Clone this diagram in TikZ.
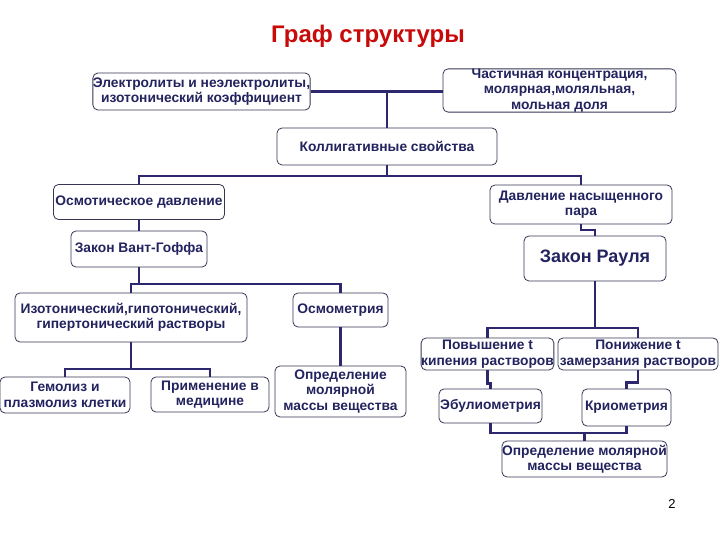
\documentclass[tikz,border=0pt]{standalone}
\usepackage{fontspec}
\setmainfont{Liberation Sans}
\usepackage{tikz}
\usetikzlibrary{calc,positioning}
\definecolor{navytext}{RGB}{35,35,95}
\definecolor{navyline}{RGB}{45,40,110}
\definecolor{boxedge}{RGB}{55,55,85}
\definecolor{titlered}{RGB}{200,10,10}

\begin{document}
\begin{tikzpicture}[x=1pt, y=-1pt,
    box/.style={draw=boxedge, line width=0.8pt, rounded corners=5pt, fill=white,
      inner sep=0pt, align=center, text=navytext,
      font=\fontsize{13.8}{15.5}\selectfont\bfseries},
    link/.style={draw=navyline, line width=2.2pt}]
  \useasboundingbox[fill=white] (0,0) rectangle (720,540);
  \node[text=titlered, font=\fontsize{24}{28}\selectfont\bfseries] (title) at (368,36) {Граф структуры};
  % top row
  \node[box, minimum width=217, minimum height=37] (elec) at (201.5,91.5) {Электролиты и неэлектролиты,\\изотонический коэффициент};
  \node[box, minimum width=233, minimum height=39] (part) at (559.5,90.5) {Частичная концентрация,\\молярная,моляльная,\\мольная доля};
  \node[box, minimum width=220, minimum height=37] (koll) at (387,146.5) {Коллигативные свойства};
  % two branches
  \node[box, minimum width=171, minimum height=35] (osm) at (139,202) {Осмотическое давление};
  \node[box, minimum width=182, minimum height=39] (davl) at (581,204.5) {Давление насыщенного\\пара};
  \node[box, minimum width=136, minimum height=36] (vg) at (139,249) {Закон Вант-Гоффа};
  \node[box, minimum width=142, minimum height=45, font=\fontsize{18}{21}\selectfont\bfseries] (raul) at (595,258.5) {Закон Рауля};
  \node[box, minimum width=232, minimum height=49] (izot) at (131,317.5) {Изотонический,гипотонический,\\гипертонический растворы};
  \node[box, minimum width=95, minimum height=34] (osmom) at (340.5,310) {Осмометрия};
  \node[box, minimum width=130, minimum height=36] (gemo) at (65,395) {Гемолиз и\\плазмолиз клетки};
  \node[box, minimum width=118, minimum height=35] (prim) at (210,394.5) {Применение в\\медицине};
  \node[box, minimum width=131, minimum height=51] (opr1) at (340.5,391.5) {Определение\\молярной\\массы вещества};
  \node[box, minimum width=131, minimum height=32] (povysh) at (487.5,354) {Повышение t\\кипения растворов};
  \node[box, minimum width=160, minimum height=32] (ponizh) at (638,354) {Понижение t\\замерзания растворов};
  \node[box, minimum width=103, minimum height=34] (ebul) at (490.5,406) {Эбулиометрия};
  \node[box, minimum width=89, minimum height=37] (krio) at (626.5,407.5) {Криометрия};
  \node[box, minimum width=165, minimum height=36] (opr2) at (584.5,459) {Определение молярной\\массы вещества};
  \node[font=\fontsize{13}{15}\selectfont] (page) at (672,504) {2};
  % bus points
  \coordinate (busA) at (387,176);
  \coordinate (busB) at (139,284);
  \coordinate (busC) at (595,328);
  \coordinate (busD) at (131,369);
  \coordinate (busE) at (584.5,433);
  % connectors
  \draw[link] (elec.east) -- (elec.east -| part.west);
  \draw[link] (koll.north) -- (koll.north |- elec.east);
  \draw[link] (koll.south) -- (busA);
  \draw[link] (osm.north) |- (busA) -| (davl.north);
  \draw[link] (osm.south) -- (vg.north);
  \draw[link] (davl.south) -- ++(0,6) -| (raul.north);
  \draw[link] (vg.south) -- (busB);
  \draw[link] (izot.north) |- (busB) -| (osmom.north);
  \draw[link] (osmom.south) -- (opr1.north);
  \draw[link] (izot.south) -- (busD);
  \draw[link] (gemo.north) |- (busD) -| (prim.north);
  \draw[link] (raul.south) -- (busC);
  \draw[link] (povysh.north) |- (busC) -| (ponizh.north);
  \draw[link] (povysh.south) -- ++(0,13) -| (ebul.north);
  \draw[link] (ponizh.south) -- ++(0,12) -| (krio.north);
  \draw[link] (ebul.south) |- (busE) -| (krio.south);
  \draw[link] (busE) -- (opr2.north);
\end{tikzpicture}
\end{document}
